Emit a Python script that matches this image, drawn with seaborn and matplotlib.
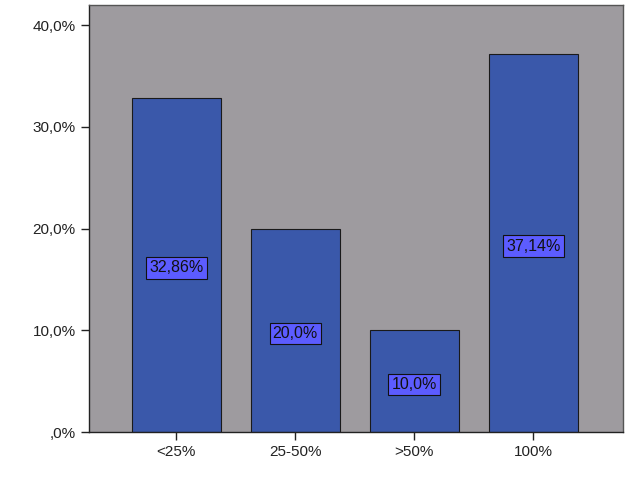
import matplotlib
matplotlib.use("Agg")
import matplotlib.pyplot as plt
import seaborn as sns
import pandas as pd
from matplotlib.ticker import FuncFormatter

categories = ["<25%", "25-50%", ">50%", "100%"]
values = [32.86, 20.0, 10.0, 37.14]
value_labels = ["32,86%", "20,0%", "10,0%", "37,14%"]
yticks = [0, 10, 20, 30, 40]

sns.set_theme(style="white")
plt.rcParams["font.family"] = ["Liberation Sans", "DejaVu Sans"]

df = pd.DataFrame({"cat": categories, "val": values})

fig = plt.figure(figsize=(6.26, 5.01), dpi=100)
ax = fig.add_axes([0.1422, 0.1377, 0.853, 0.8523])
ax.set_facecolor("#9E9B9F")

sns.barplot(data=df, x="cat", y="val", ax=ax, color="#3A58AA", saturation=1,
            width=0.75, edgecolor="#1a1a1a", linewidth=0.8)

for i, (v, lab) in enumerate(zip(values, value_labels)):
    ax.text(i, v / 2 - 0.3, lab, ha="center", va="center", fontsize=11.5, color="#111111",
            bbox=dict(boxstyle="square,pad=0.2", facecolor="#5C5CFF",
                      edgecolor="#111111", linewidth=0.8))

def fmt(v, p):
    s = ("%.1f%%" % v).replace(".", ",")
    return s[1:] if v == 0 else s

ax.set_xlim(-0.735, 3.755)
ax.set_ylim(0, 41.97)
ax.set_yticks(yticks)
ax.yaxis.set_major_formatter(FuncFormatter(fmt))
ax.set_xlabel("")
ax.set_ylabel("")
ax.tick_params(axis="both", which="both", length=6, width=1, color="#222222",
               labelsize=11, labelcolor="#222222", bottom=True, left=True)
for side in ["left", "bottom", "top", "right"]:
    ax.spines[side].set_visible(True)
    ax.spines[side].set_color("#222222")
    ax.spines[side].set_linewidth(1)
ax.spines["top"].set_color("#555555")
ax.spines["right"].set_color("#555555")

fig.savefig("out.png", dpi=100, facecolor="white")
